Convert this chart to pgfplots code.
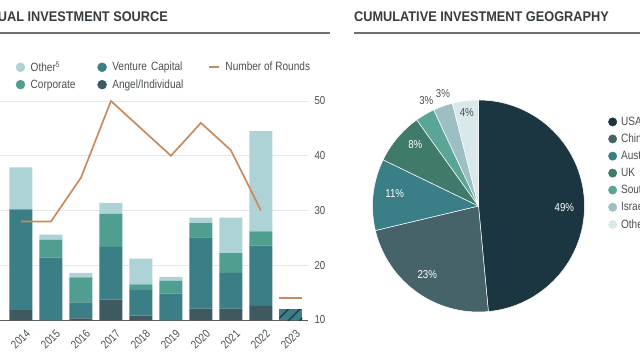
\documentclass[border=0pt]{standalone}
\usepackage{pgfplots}
\pgfplotsset{compat=1.18}
\usepackage{pgfplotstable}
\usetikzlibrary{patterns.meta}
\usepackage{fontspec}
\setmainfont{Liberation Sans}[FakeStretch=0.84]
\newfontfamily\titlefont{Liberation Sans}[FakeStretch=0.91]

\definecolor{cOther}{HTML}{AED3D7}
\definecolor{cCorp}{HTML}{4F9E8F}
\definecolor{cVC}{HTML}{3B7E86}
\definecolor{cAngel}{HTML}{3E5A60}
\definecolor{cLine}{HTML}{C98A5E}
\definecolor{cGrid}{HTML}{E6E8E8}
\definecolor{cAxis}{HTML}{5A5F62}
\definecolor{cText}{HTML}{4A4F52}
\definecolor{cTitle}{HTML}{353B3F}
\definecolor{cRule}{HTML}{6E7275}
\definecolor{pUSA}{HTML}{1B3541}
\definecolor{pChina}{HTML}{46636A}
\definecolor{pAus}{HTML}{3A7F87}
\definecolor{pUK}{HTML}{3F7A6B}
\definecolor{pSK}{HTML}{5BA596}
\definecolor{pIsr}{HTML}{9DBFC3}
\definecolor{pOth}{HTML}{D9E8EA}

\newcommand\legfont{\fontsize{12}{13}\selectfont}
\newcommand\tickfont{\fontsize{11.5}{12}\selectfont}
\newcommand\pielab{\fontsize{11.5}{12}\selectfont}

\pgfplotstableread{
x angel vc corp other hatch
0 1.8 18.4 0.0 7.7 0
1 0.0 11.4 3.3 0.9 0
2 0.3 2.9 4.6 0.8 0
3 3.7 9.6 6.1 2.0 0
4 0.8 4.7 1.0 4.7 0
5 0.0 4.8 2.4 0.7 0
6 2.1 13.0 2.6 1.0 0
7 2.1 6.5 3.6 6.5 0
8 2.6 11.0 2.6 18.3 0
9 0.0 0.0 0.0 0.0 2.0
}\bars

\pgfplotstableread{
x rounds
0 28
1 28
2 36
3 50
4 45
5 40
6 46
7 41
8 30
}\rounds

\begin{document}
\begin{tikzpicture}
\path[use as bounding box, clip] (0pt,0pt) rectangle (640pt,360pt);

% titles and rules
\node[anchor=base east, inner sep=0pt, font=\titlefont\bfseries\fontsize{14}{14}\selectfont, text=cTitle] at (168pt,338.3pt) {ANNUAL INVESTMENT SOURCE};
\node[anchor=base west, inner sep=0pt, font=\titlefont\bfseries\fontsize{14}{14}\selectfont, text=cTitle] at (354pt,338.3pt) {CUMULATIVE INVESTMENT GEOGRAPHY};
\draw[cRule, line width=1.5pt] (0pt,327pt) -- (330pt,327pt);
\draw[cRule, line width=1.5pt] (354pt,327pt) -- (640pt,327pt);

% bars
\begin{axis}[
  at={(0pt,40pt)}, anchor=south west,
  scale only axis, width=308pt, height=219pt,
  xmin=-0.7, xmax=9.57, ymin=0, ymax=40,
  ybar stacked, bar width=23pt,
  axis x line*=bottom, axis y line*=left,
  y axis line style={draw=none},
  x axis line style={cAxis, line width=1pt, -},
  xtick={0,1,2,3,4,5,6,7,8,9},
  xticklabels={2014,2015,2016,2017,2018,2019,2020,2021,2022,2023},
  xticklabel style={rotate=45, anchor=north east, font=\tickfont, text=cText, inner sep=1pt, yshift=-8pt, xshift=-2pt},
  ytick={10,20,30,40}, yticklabels={},
  major tick length=0pt,
  ymajorgrids, grid style={cGrid, line width=0.8pt},
  clip=false,
]
\addplot[fill=cAngel, draw=none] table[x=x,y=angel]{\bars};
\addplot[fill=cVC, draw=none] table[x=x,y=vc]{\bars};
\addplot[fill=cCorp, draw=none] table[x=x,y=corp]{\bars};
\addplot[fill=cOther, draw=none] table[x=x,y=other]{\bars};
\addplot[fill=cVC, draw=none, postaction={pattern={Lines[angle=45, distance=8pt, line width=1.2pt]}, pattern color=pUSA}] table[x=x,y=hatch]{\bars};
\end{axis}

% rounds line
\begin{axis}[
  at={(0pt,40pt)}, anchor=south west,
  scale only axis, width=308pt, height=219pt,
  xmin=-0.7, xmax=9.57, ymin=10, ymax=50,
  axis x line=none, axis y line*=right,
  y axis line style={draw=none},
  ytick={10,20,30,40,50},
  /pgf/number format/assume math mode=true,
  yticklabel style={font=\tickfont, text=cText, xshift=3pt},
  major tick length=0pt,
  clip=false,
  legend columns=3,
  legend cell align=left,
  legend style={draw=none, fill=none, at={(0.0513,1.18)}, anchor=north west,
    inner sep=0pt, outer sep=0pt, font=\legfont, text=cText,
    row sep=6.6pt, column sep=0pt, nodes={inner sep=0pt},
    /tikz/every odd column/.append style={column sep=5.5pt},
    /tikz/column 2/.style={text width=66.7pt, align=left},
    /tikz/column 4/.style={text width=96pt, align=left}},
]
\addlegendimage{legend image code/.code={\fill[cOther] (0pt,0pt) circle (4.5pt);}}
\addlegendentry{Other\textsuperscript{5}}
\addlegendimage{legend image code/.code={\fill[cVC] (0pt,0pt) circle (4.5pt);}}
\addlegendentry{Venture Capital}
\addplot[cLine, line width=1.7pt, legend image code/.code={\draw[cLine, line width=1.7pt] (0pt,0pt) -- (10pt,0pt);}] table[x=x,y=rounds]{\rounds};
\addlegendentry{Number of Rounds}
\addlegendimage{legend image code/.code={\fill[cCorp] (0pt,0pt) circle (4.5pt);}}
\addlegendentry{Corporate}
\addlegendimage{legend image code/.code={\fill[cAngel] (0pt,0pt) circle (4.5pt);}}
\addlegendentry{Angel/Individual}
\addplot[cLine, line width=1.7pt, forget plot] coordinates {(8.617,14) (9.383,14)};
\end{axis}

% pie
\begin{axis}[
  at={(478.5pt,154pt)}, anchor=center,
  scale only axis, width=212pt, height=212pt,
  xmin=-1, xmax=1, ymin=-1, ymax=1,
  hide axis, clip=false,
  legend cell align=left,
  legend style={draw=none, fill=none, at={(1.112,0.92)}, anchor=north west,
    inner sep=0pt, outer sep=0pt, font=\legfont, text=cText,
    row sep=7.0pt, nodes={inner sep=0pt},
    /tikz/every odd column/.append style={column sep=4pt}},
]
\pgfplotsextra{
  \xdef\angA{90}
  \foreach \pv/\pc/\rf/\da/\tc in {49/pUSA/0.81/-3.5/white, 23/pChina/0.81/-1/white, 11/pAus/0.80/-2.5/white, 8/pUK/0.83/-4/white, 3/pSK/1.11/-4/cText, 3/pIsr/1.11/-2/cText, 4/pOth/0.89/0/cText}{
    \pgfmathsetmacro\angB{\angA-\pv/101*360}
    \pgfmathsetmacro\angM{(\angA+\angB)/2+\da}
    \fill[\pc, draw=white, line width=0.5pt] (axis cs:0,0) -- ++(\angA:106pt) arc[start angle=\angA, end angle=\angB, radius=106pt] -- cycle;
    \path (axis cs:0,0) ++(\angM:{\rf*106pt}) node[text=\tc, font=\pielab, inner sep=0pt] {\pv\%};
    \xdef\angA{\angB}
  }
}
\addlegendimage{legend image code/.code={\fill[pUSA] (0pt,0pt) circle (4.2pt);}}
\addlegendentry{USA}
\addlegendimage{legend image code/.code={\fill[pChina] (0pt,0pt) circle (4.2pt);}}
\addlegendentry{China}
\addlegendimage{legend image code/.code={\fill[pAus] (0pt,0pt) circle (4.2pt);}}
\addlegendentry{Australia}
\addlegendimage{legend image code/.code={\fill[pUK] (0pt,0pt) circle (4.2pt);}}
\addlegendentry{UK}
\addlegendimage{legend image code/.code={\fill[pSK] (0pt,0pt) circle (4.2pt);}}
\addlegendentry{South Korea}
\addlegendimage{legend image code/.code={\fill[pIsr] (0pt,0pt) circle (4.2pt);}}
\addlegendentry{Israel}
\addlegendimage{legend image code/.code={\fill[pOth] (0pt,0pt) circle (4.2pt);}}
\addlegendentry{Other}
\end{axis}
\end{tikzpicture}
\end{document}
